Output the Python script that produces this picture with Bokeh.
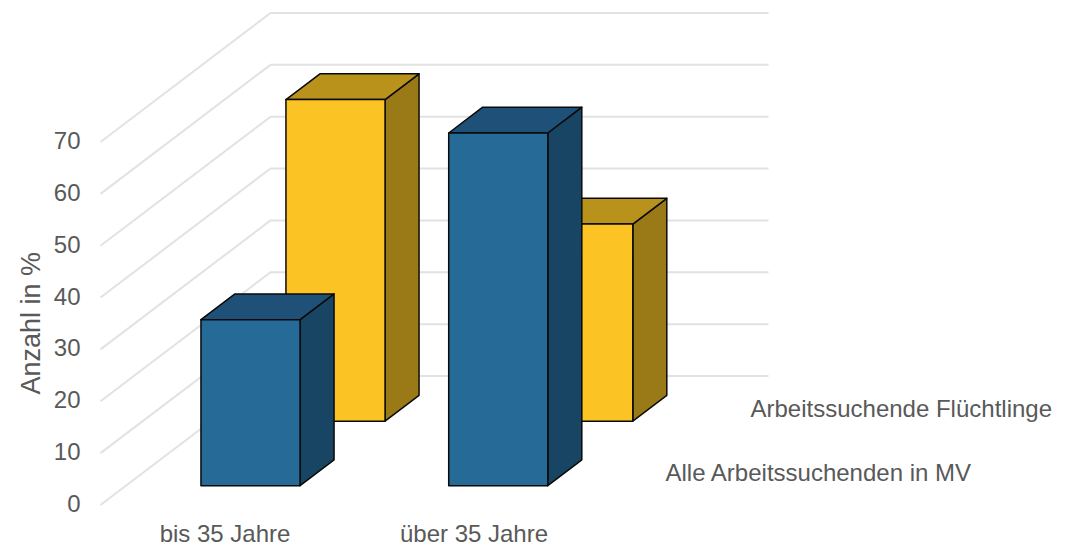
from bokeh.plotting import figure
from bokeh.models import Range1d, LinearAxis, FixedTicker, Title
from bokeh.core.properties import value
from bokeh.embed import file_html
from bokeh.resources import INLINE

categories = ["bis 35 Jahre", "über 35 Jahre"]
series_names = ["Alle Arbeitssuchenden in MV", "Arbeitssuchende Flüchtlinge"]
alle_mv = [32, 68]
fluechtlinge = [62, 38]
y_ticks = [0, 10, 20, 30, 40, 50, 60, 70]
axis_title = "Anzahl in %"

FONT = "Liberation Sans"
TEXT = "#595959"
GRID = "#E2E2E2"
PX_X = 249.0      # pixels per category
PX_Y = 5.186      # pixels per percent
DEPTH_X = 170 / PX_X   # wall depth as category units
DEPTH_Y = 129 / PX_Y   # wall depth as percent units
BAR_W = 0.398
BAR_D = 0.2
BAR_CENTERS = [0.5, 1.495]
W, H = 1068, 545
LEFT = 90


def proj(cat, depth, val):
    return cat + depth * DEPTH_X, val + depth * DEPTH_Y


x0_page, y0_page = 100, 504.5
x_range = Range1d((LEFT - x0_page) / PX_X, (W - x0_page) / PX_X)
y_range = Range1d((y0_page - H) / PX_Y, y0_page / PX_Y)

p = figure(width=W, height=H, x_range=x_range, y_range=y_range,
           output_backend="svg", toolbar_location=None,
           min_border_left=LEFT, min_border_right=0, min_border_top=0,
           min_border_bottom=0, outline_line_color=None,
           x_axis_type=None, y_axis_type=None)
p.grid.visible = False
p.background_fill_color = "white"

# walls
xs, ys = [], []
for t in y_ticks:
    pts = [proj(0, 0, t), proj(0, 1, t), proj(2, 1, t)]
    xs.append([a for a, _ in pts])
    ys.append([b for _, b in pts])
p.multi_line(xs, ys, line_color=GRID, line_width=2)


def box(cat_index, depth_center, val, front, top, side):
    c0 = BAR_CENTERS[cat_index] - BAR_W / 2
    c1 = c0 + BAR_W
    d0 = depth_center - BAR_D / 2
    d1 = d0 + BAR_D
    faces = [
        ([proj(c1, d0, 0), proj(c1, d1, 0), proj(c1, d1, val), proj(c1, d0, val)], side),
        ([proj(c0, d0, val), proj(c1, d0, val), proj(c1, d1, val), proj(c0, d1, val)], top),
        ([proj(c0, d0, 0), proj(c1, d0, 0), proj(c1, d0, val), proj(c0, d0, val)], front),
    ]
    for pts, col in faces:
        p.patch([a for a, _ in pts], [b for _, b in pts], fill_color=col,
                line_color="#0A0A0A", line_width=1.5, line_join="round")


for i, v in enumerate(fluechtlinge):
    box(i, 0.75, v, "#FBC324", "#B8921A", "#9A7A16")
for i, v in enumerate(alle_mv):
    box(i, 0.25, v, "#266A97", "#1F5078", "#184563")

# value axis: labels sit slightly above the wall line ends
shift = 1.5 / PX_Y
p.extra_y_ranges = {"labels": Range1d(y_range.start - shift, y_range.end - shift)}
ya = LinearAxis(y_range_name="labels", ticker=FixedTicker(ticks=y_ticks),
                axis_line_color=None, major_tick_line_color=None, minor_tick_line_color=None,
                major_tick_in=0, major_tick_out=0, major_label_standoff=10,
                major_label_text_font=FONT, major_label_text_font_size="24px",
                major_label_text_color=TEXT)
p.add_layout(ya, "left")

# category axis, placed inside the tall frame just below the floor
xa = LinearAxis(ticker=FixedTicker(ticks=[0.5, 1.5]),
                major_label_overrides={0.5: categories[0], 1.5: categories[1]},
                fixed_location=-5.5 / PX_Y,
                axis_line_color=None, major_tick_line_color=None, minor_tick_line_color=None,
                major_tick_in=0, major_tick_out=0, major_label_standoff=9,
                major_label_text_font=FONT, major_label_text_font_size="24px",
                major_label_text_color=TEXT)
p.add_layout(xa, "below")

# series (depth axis) labels
lx, ly = zip(*[proj(2, 0.25, 0), proj(2, 0.75, 0)])
p.text(list(lx), list(ly), text=series_names, x_offset=24.5, text_baseline="middle",
       text_align="left", text_font=value(FONT), text_font_size="24px", text_color=TEXT)

p.add_layout(Title(text=axis_title, align="left", offset=151, standoff=9,
                   text_font=FONT, text_font_size="27px", text_font_style="normal",
                   text_color=TEXT), "left")

open("out.html", "w").write(file_html(p, INLINE))
